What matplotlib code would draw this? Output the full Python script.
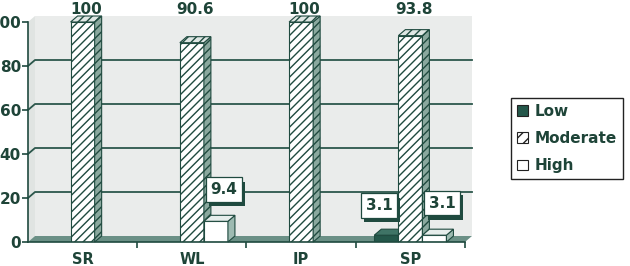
import matplotlib.pyplot as plt
import matplotlib.patheffects as pe
from matplotlib.patches import Polygon, Rectangle, Patch

categories = ['SR', 'WL', 'IP', 'SP']
low = [0, 0, 0, 3.1]
moderate = [100, 90.6, 100, 93.8]
high = [0, 9.4, 0, 3.1]
yticks = [0, 20, 40, 60, 80, 100]

dark = '#1f4a3f'
txt = '#1e4438'
plt.rcParams['hatch.linewidth'] = 1.0

fig = plt.figure(figsize=(6.3, 2.66), dpi=100)
ax = fig.add_axes([28 / 630, 24 / 266, 437 / 630, 220 / 266])
ax.set_xlim(-0.5, 3.5)
ax.set_ylim(0, 100)

# depth of the fake 3d, in data units (7px right, 6px up)
PX = 437 / 4
DX = 7 / PX
DY = 6 / 2.2
W = 0.22

# back wall, side wall, floor
ax.add_patch(Rectangle((-0.5 + DX, DY), 4, 100, fc='#eaeceb', ec='none', zorder=0, clip_on=False))
ax.add_patch(Polygon([(-0.5, 0), (-0.5 + DX, DY), (-0.5 + DX, 100 + DY), (-0.5, 100)],
                     fc='#e0e4e2', ec='none', zorder=0.5, clip_on=False))
for v in yticks[1:-1]:
    ax.plot([-0.5, -0.5 + DX, 3.5 + DX], [v, v + DY, v + DY], color='#2c574c', lw=1.3,
            zorder=1, clip_on=False)
ax.add_patch(Polygon([(-0.5, 0), (3.5, 0), (3.5 + DX, DY), (-0.5 + DX, DY)],
                     fc='#6b9086', ec='none', zorder=1.5, clip_on=False))

styles = [
    dict(front='#24574a', side='#163b31', top='#3f7466', hatch=None),
    dict(front='white', side='#8aa89e', top='#dfe7e4', hatch='////'),
    dict(front='white', side='#9dbab1', top='#e6edeb', hatch=None),
]
series = [low, moderate, high]

for j, vals in enumerate(series):
    st = styles[j]
    z = 3 + j
    xs = [i + (j - 1) * W for i in range(len(categories))]
    keep = [k for k, v in enumerate(vals) if v > 0]
    bars = ax.bar([xs[k] for k in keep], [vals[k] for k in keep], W, color=st['front'],
                  edgecolor=dark, linewidth=0.8, hatch=st['hatch'], zorder=z)
    for b in bars:
        x0, h = b.get_x(), b.get_height()
        ax.add_patch(Polygon([(x0 + W, 0), (x0 + W + DX, DY), (x0 + W + DX, h + DY), (x0 + W, h)],
                             fc=st['side'], ec=dark, lw=0.8, hatch=st['hatch'], zorder=z, clip_on=False))
        ax.add_patch(Polygon([(x0, h), (x0 + W, h), (x0 + W + DX, h + DY), (x0 + DX, h + DY)],
                             fc=st['top'], ec=dark, lw=0.8, hatch=st['hatch'], zorder=z, clip_on=False))

# value labels
for i, v in enumerate(moderate):
    ax.text(i + 0.03, 105.5, f'{v:g}', ha='center', va='center', fontsize=11,
            fontweight='bold', color=txt, clip_on=False, zorder=10)

# boxed labels with a drop shadow (x nudge in px, y lift in data units)
nudge = {0: (-7, 13.5), 2: (8, 14.5)}
for j in (0, 2):
    for i, v in enumerate(series[j]):
        if v <= 0:
            continue
        dxp, lift = nudge[j]
        x = i + (j - 1) * W + dxp / PX
        t = ax.text(x, v + lift, f'{v:g}', ha='center', va='center', fontsize=11,
                    fontweight='bold', color=txt, zorder=12,
                    bbox=dict(boxstyle='square,pad=0.3', fc='white', ec=dark, lw=0.9))
        t.get_bbox_patch().set_path_effects([
            pe.SimplePatchShadow(offset=(2.2, -3), shadow_rgbFace=dark, alpha=1.0),
            pe.Normal()])

# axes
for s in ('top', 'right'):
    ax.spines[s].set_visible(False)
for s in ('left', 'bottom'):
    ax.spines[s].set_color(dark)
    ax.spines[s].set_linewidth(1.2)
    ax.spines[s].set_zorder(6)
ax.set_yticks(yticks)
ax.set_yticklabels([str(t) for t in yticks])
ax.tick_params(axis='y', length=4, width=1.2, color=dark, pad=1, labelsize=11, labelcolor=txt)
ax.set_xticks(range(len(categories)))
ax.set_xticklabels(categories)
ax.set_xticks([0.5, 1.5, 2.5, 3.5], minor=True)
ax.tick_params(axis='x', which='major', length=0, pad=7, labelsize=10.5, labelcolor=txt)
ax.tick_params(axis='x', which='minor', length=4, width=1.2, color=dark)
for lab in ax.get_xticklabels() + ax.get_yticklabels():
    lab.set_fontweight('bold')

handles = [Patch(fc=styles[0]['front'], ec='#222222', lw=0.8),
           Patch(fc='white', ec='#222222', lw=0.8, hatch='///'),
           Patch(fc='white', ec='#222222', lw=0.8)]
leg = fig.legend(handles, ['Low', 'Moderate', 'High'], loc='center',
                 bbox_to_anchor=(567 / 630, 1 - 138.5 / 266), frameon=True, fancybox=False,
                 framealpha=1, edgecolor='#222222', handlelength=0.7, handleheight=0.7,
                 handletextpad=0.4, labelspacing=0.8, borderpad=0.4, borderaxespad=0,
                 prop=dict(size=11, weight='bold'))
leg.get_frame().set_linewidth(1.0)
for t in leg.get_texts():
    t.set_color(txt)

fig.savefig('out.png', dpi=100)
